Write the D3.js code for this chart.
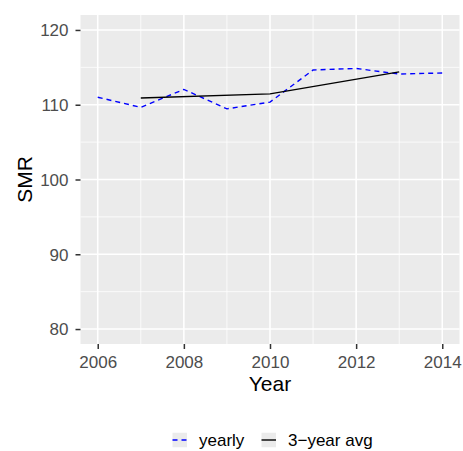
<!DOCTYPE html>
<html><head><meta charset="utf-8">
<script src="https://cdn.jsdelivr.net/npm/d3@7"></script>
<style>body{margin:0;background:#fff}svg{display:block;font-family:"Liberation Sans",Arial,Helvetica,sans-serif}</style>
</head><body><svg id="c" width="463" height="451"></svg>
<script>
const years = [2006, 2007, 2008, 2009, 2010, 2011, 2012, 2013, 2014];
const yearlySMR = [111.0, 109.65, 112.05, 109.45, 110.35, 114.65, 114.85, 114.1, 114.25];
const avgYears = [2007, 2010, 2013];
const avgSMR = [110.9, 111.45, 114.4];
const xTicks = [2006, 2008, 2010, 2012, 2014];
const xMinor = [2007, 2009, 2011, 2013];
const yTicks = [80, 90, 100, 110, 120];
const yMinor = [85, 95, 105, 115];
const legendLabels = ["yearly", "3\u2212year avg"];

const svg = d3.select("#c");
const L = 80.5, R = 459.5, T = 15, B = 344;
const x = d3.scaleLinear().domain([2005.6, 2014.4]).range([L, R]);
const y = d3.scaleLinear().domain([78, 122]).range([B, T]);
const FONT = "Liberation Sans, Arial, sans-serif";

svg.append("rect").attr("x", L).attr("y", T).attr("width", R - L).attr("height", B - T).attr("fill", "#EBEBEB");
const g = svg.append("g");
g.selectAll(".ym").data(yMinor).join("line").attr("x1", L).attr("x2", R).attr("y1", d => y(d)).attr("y2", d => y(d)).attr("stroke", "#fff").attr("stroke-width", 0.78);
g.selectAll(".xm").data(xMinor).join("line").attr("y1", T).attr("y2", B).attr("x1", d => x(d)).attr("x2", d => x(d)).attr("stroke", "#fff").attr("stroke-width", 0.78);
g.selectAll(".yM").data(yTicks).join("line").attr("x1", L).attr("x2", R).attr("y1", d => y(d)).attr("y2", d => y(d)).attr("stroke", "#fff").attr("stroke-width", 1.55);
g.selectAll(".xM").data(xTicks).join("line").attr("y1", T).attr("y2", B).attr("x1", d => x(d)).attr("x2", d => x(d)).attr("stroke", "#fff").attr("stroke-width", 1.55);

const line = d3.line().x(d => x(d[0])).y(d => y(d[1]));
svg.append("path").datum(years.map((d, i) => [d, yearlySMR[i]])).attr("d", line)
  .attr("fill", "none").attr("stroke", "#0000FF").attr("stroke-width", 1.4).attr("stroke-dasharray", "5,4");
svg.append("path").datum(avgYears.map((d, i) => [d, avgSMR[i]])).attr("d", line)
  .attr("fill", "none").attr("stroke", "#000").attr("stroke-width", 1.4);

// axes
const xa = svg.append("g").attr("transform", `translate(0,${B})`).call(d3.axisBottom(x).tickValues(xTicks).tickFormat(d3.format("d")).tickSize(5).tickPadding(7));
const ya = svg.append("g").attr("transform", `translate(${L},0)`).call(d3.axisLeft(y).tickValues(yTicks).tickSize(5).tickPadding(7));
[xa, ya].forEach(a => {
  a.attr("font-size", null).attr("font-family", null);
  a.select(".domain").remove();
  a.selectAll(".tick line").attr("stroke", "#333").attr("stroke-width", 1.5);
  a.selectAll(".tick text").attr("fill", "#4D4D4D").style("font-size", "17px").style("font-family", FONT);
});
ya.selectAll(".tick text").attr("dy", "0.35em");

svg.append("text").attr("x", (L + R) / 2).attr("y", 391).attr("text-anchor", "middle").style("font-size", "21px").style("font-family", FONT).attr("fill", "#000").text("Year");
svg.append("text").attr("transform", `translate(32,${(T + B) / 2}) rotate(-90)`).attr("text-anchor", "middle").style("font-size", "21px").style("font-family", FONT).attr("fill", "#000").text("SMR");

// legend
const ly = 440;
const lg = svg.append("g");
const keyX = [172.5, 261.5];
const textX = [199, 288];
const ks = 14.5;
keyX.forEach((kx, i) => {
  lg.append("rect").attr("x", kx).attr("y", ly - ks / 2).attr("width", ks).attr("height", ks).attr("fill", "#EBEBEB");
  lg.append("line").attr("x1", kx).attr("x2", kx + ks).attr("y1", ly).attr("y2", ly)
    .attr("stroke", i === 0 ? "#0000FF" : "#000").attr("stroke-width", 1.4)
    .attr("stroke-dasharray", i === 0 ? "5,4" : null);
  lg.append("text").attr("x", textX[i]).attr("y", ly + 6).style("font-size", "17px").style("font-family", FONT).attr("fill", "#000").text(legendLabels[i]);
});
</script></body></html>
